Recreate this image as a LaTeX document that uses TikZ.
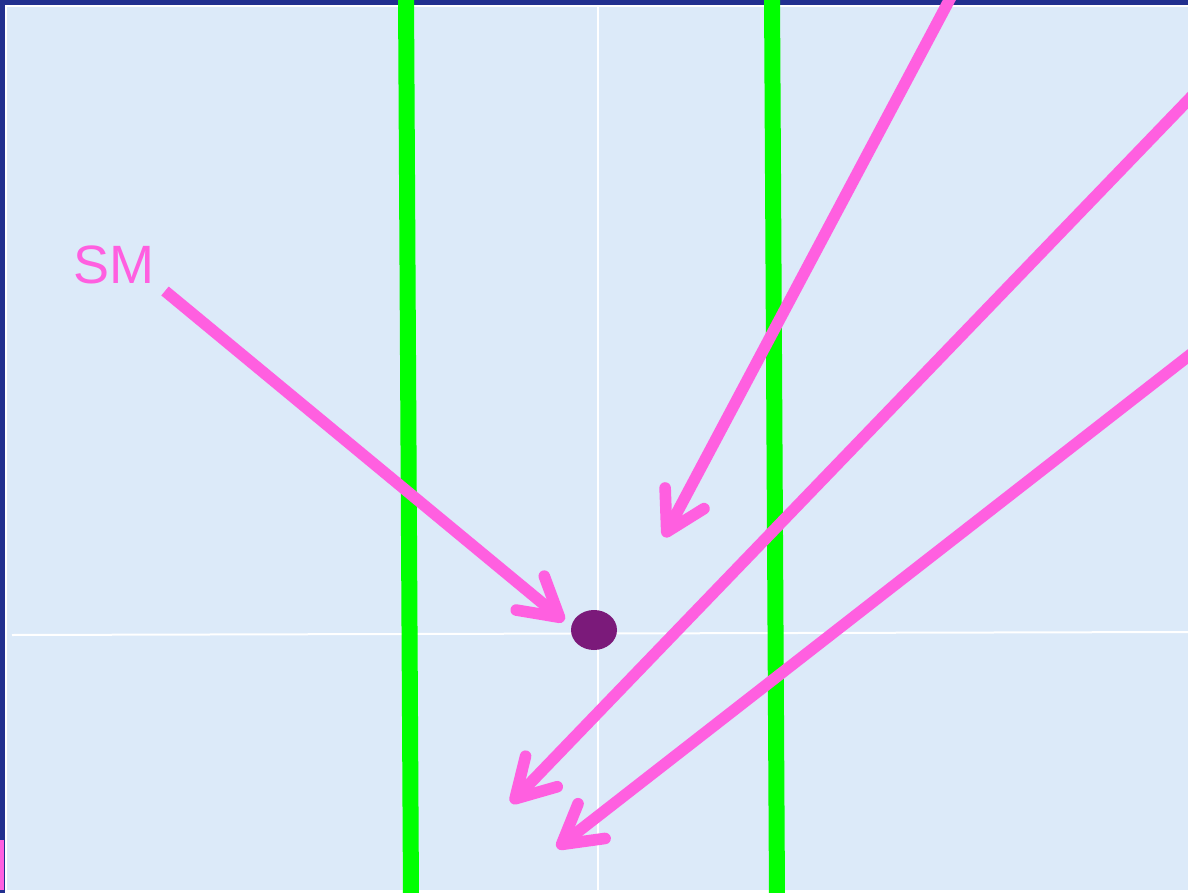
\documentclass[tikz,border=0pt]{standalone}
\usepackage{fontspec}
\setsansfont{Liberation Sans}
\usepackage{xcolor}
\definecolor{FrameNavy}{HTML}{22308F}
\definecolor{PaneBlue}{HTML}{DCEAF9}
\definecolor{RayPink}{HTML}{FF5FE0}
\definecolor{WallGreen}{HTML}{00FF00}
\definecolor{DotPurple}{HTML}{7B1A7A}
\usetikzlibrary{arrows.meta,shapes.geometric}

\begin{document}
\begin{tikzpicture}[x=0.5pt,y=-0.5pt, ray/.style={RayPink, line width=5.8pt, -{Straight Barb[length=19pt,width=22pt,round]}}, wall/.style={WallGreen, line width=8pt}, gridline/.style={white, line width=1pt}, target/.style={ellipse, fill=DotPurple, minimum width=23pt, minimum height=20pt, inner sep=0pt}]
        \useasboundingbox (0,0) rectangle (1188,893);
        \clip (0,0) rectangle (1188,893);
        % frame and pane
        \fill[white] (0,0) rectangle (1188,893);
        \fill[FrameNavy] (0,0) rectangle (1188,5);
        \fill[FrameNavy] (0,0) rectangle (5,893);
        \fill[PaneBlue] (7,7) rectangle (1188,890);
        \fill[RayPink] (0,840) rectangle (4,890);
        % grid
        \draw[gridline] (598,7) -- (598,893);
        \draw[gridline] (12,635) -- (1188,632);
        % walls
        \draw[wall] (406,-5) -- (411,898);
        \draw[wall] (772,-5) -- (777,898);
        % ray ends
        \coordinate (smtail) at (165,291);
        \coordinate (smtip) at (564,621);
        \coordinate (topin) at (952,-5);
        \coordinate (topout) at (664,537);
        \coordinate (upin) at (1195,93);
        \coordinate (upout) at (511,803);
        \coordinate (lowin) at (1195,351);
        \coordinate (lowout) at (557,848);
        \node[target] (dot) at (594,630) {};
        \node[text=RayPink, font=\sffamily\fontsize{27}{30}\selectfont] (smlabel) at (114,265) {SM};

        \draw[ray] (smtail) -- (smtip);
        \draw[ray] (topin) -- (topout);
        \draw[ray] (upin) -- (upout);
        \draw[ray] (lowin) -- (lowout);
    \end{tikzpicture}
\end{document}
